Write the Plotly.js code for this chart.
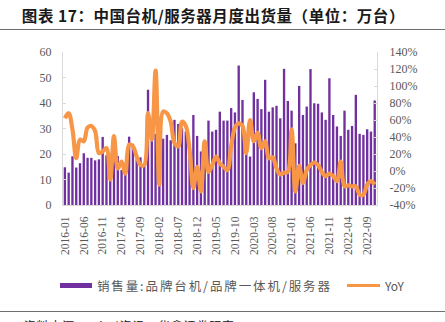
<!DOCTYPE html>
<html>
<head>
<meta charset="utf-8">
<script src="https://cdn.plot.ly/plotly-3.0.1.min.js"></script>
<style>
html,body{margin:0;padding:0;background:#fff;}
#chart{width:445px;height:322px;}
.annotation[data-index="0"] text{letter-spacing:0.55px;}
.annotation[data-index="1"] text{letter-spacing:1.9px;}
.annotation[data-index="3"] text{letter-spacing:0.8px;}
</style>
</head>
<body>
<div id="chart"></div>
<script>
// ---- data ----
var startYear = 2016, monthCount = 83;
var months = [];
for (var i = 0; i < monthCount; i++) {
  var y = startYear + Math.floor(i / 12), m = (i % 12) + 1;
  months.push(y + '-' + (m < 10 ? '0' + m : m));
}
var sales = [14.8,12.7,19.1,14.7,16.4,20.3,18.5,18.5,17.5,17.9,26.7,19.5,
             12,18,19.2,13.7,12.5,26.8,24,18,18.7,15.8,45.2,25.2,
             27.9,16,26,27.5,25.4,33.4,31.8,30.1,28.8,19,35.3,27.1,
             21,24,33.1,28.8,29.5,36.6,33.1,33.1,38,36.3,54.7,41.2,
             28,19,44.2,41.6,37.6,49.1,36.6,38.3,38.9,34,53.4,40.8,
             37,24.2,46.7,35.3,38.6,53.3,39.9,39.7,36.3,33.4,49.7,35.3,
             30.8,27.1,37,29.5,31,43.2,27.9,27.5,29.7,28.8,41];
var yoy = [62,68,49,15,37,35,51,53,47,21,23,27,
           -10,41,3,11,-3,31,29,17,7,7,68,37,
           118,-16,70,68,58,33,29,58,53,25,-20,5,
           -24,35,-1,7,17,9,5,1,29,51,56,53,
           21,60,35,45,27,35,15,16,3,-4,-2,-1,
           49,-24,6,-14,1,7,10,7,-1,-6,-3,-6,
           -12,11,-18,-17,-18,-18,-28,-28,-16,-12,-16];
var xTicks = ['2016-01','2016-06','2016-11','2017-04','2017-09','2018-02','2018-07','2018-12',
              '2019-05','2019-10','2020-03','2020-08','2021-01','2021-06','2021-11','2022-04','2022-09'];
var leftTicks = [0,10,20,30,40,50,60];
var rightTicks = [-40,-20,0,20,40,60,80,100,120,140];
var rightTickText = ['-40%','-20%','0%','20%','40%','60%','80%','100%','120%','140%'];
var salesName = '销售量:品牌台机/品牌一体机/服务器';
var yoyName = 'YoY';
var titleText = '图表 17：中国台机/服务器月度出货量（单位：万台）';
var sourceText = '资料来源：Wind资讯，华鑫证券研究';

// ---- layout helpers ----
var W = 445, H = 322, L = 63, R = 377, T = 52, B = 205;
function px(x) { return (x - L) / (R - L); }
function py(y) { return (B - y) / (B - T); }

var purple = '#7030A0', orange = '#F79646', grey = '#595959';
var serif = 'Liberation Serif, Times New Roman, serif';
var cjk = 'Noto Sans CJK SC, sans-serif';

var traces = [
  {type: 'bar', x: months, y: sales, name: salesName, marker: {color: purple}, yaxis: 'y', showlegend: false},
  {type: 'scatter', mode: 'lines', x: months, y: yoy, name: yoyName, yaxis: 'y2',
   line: {color: orange, width: 4.2, shape: 'spline', smoothing: 1}, showlegend: false}
];

var layout = {
  width: W, height: H,
  margin: {l: L, r: W - R, t: T, b: H - B},
  paper_bgcolor: '#fff', plot_bgcolor: '#fff',
  bargap: 0.38,
  showlegend: false,
  xaxis: {
    type: 'category', range: [-0.5, monthCount - 0.4],
    tickmode: 'array', tickvals: xTicks, ticktext: xTicks, tickangle: -90,
    ticks: '', showgrid: false, zeroline: false,
    showline: true, linecolor: '#d9d9d9', linewidth: 1,
    tickfont: {family: serif, size: 11.5, color: grey}, ticklabelstandoff: 6
  },
  yaxis: {
    range: [0, 60], tickmode: 'array', tickvals: leftTicks,
    showgrid: false, zeroline: false, showline: true, linecolor: '#d9d9d9', linewidth: 1,
    ticks: 'inside', ticklen: 3, tickcolor: '#d9d9d9',
    tickfont: {family: serif, size: 12, color: grey}, ticklabelstandoff: 8
  },
  yaxis2: {
    overlaying: 'y', side: 'right', range: [-40, 140],
    tickmode: 'array', tickvals: rightTicks, ticktext: rightTickText,
    showgrid: false, zeroline: false, showline: true, linecolor: '#d9d9d9', linewidth: 1,
    ticks: 'inside', ticklen: 3, tickcolor: '#d9d9d9',
    tickfont: {family: serif, size: 12, color: grey}, ticklabelstandoff: 9
  },
  shapes: [
    {type: 'line', xref: 'paper', yref: 'paper', x0: px(0), x1: px(W), y0: py(29.5), y1: py(29.5),
     line: {color: '#6e6e6e', width: 1.2}},
    {type: 'line', xref: 'paper', yref: 'paper', x0: px(0), x1: px(W), y0: py(311.5), y1: py(311.5),
     line: {color: '#6e6e6e', width: 1.2}},
    {type: 'rect', xref: 'paper', yref: 'paper', x0: px(60), x1: px(92), y0: py(288), y1: py(283),
     fillcolor: purple, line: {width: 0}},
    {type: 'line', xref: 'paper', yref: 'paper', x0: px(347), x1: px(380), y0: py(285.5), y1: py(285.5),
     line: {color: orange, width: 3}}
  ],
  annotations: [
    {xref: 'paper', yref: 'paper', x: px(27), y: py(15), xanchor: 'left', yanchor: 'middle',
     text: '<b>' + titleText + '</b>', showarrow: false,
     font: {family: cjk, size: 15.5, color: '#1a1a1a'}},
    {xref: 'paper', yref: 'paper', x: px(112), y: py(285.5), xanchor: 'left', yanchor: 'middle',
     text: salesName, showarrow: false, font: {family: cjk, size: 12.5, color: grey}},
    {xref: 'paper', yref: 'paper', x: px(382), y: py(285.5), xanchor: 'left', yanchor: 'middle',
     text: yoyName, showarrow: false, font: {family: cjk, size: 12, color: grey}},
    {xref: 'paper', yref: 'paper', x: px(29), y: py(315), xanchor: 'left', yanchor: 'top',
     text: sourceText, showarrow: false, font: {family: cjk, size: 12, color: '#1a1a1a'}}
  ]
};

Plotly.newPlot('chart', traces, layout, {displayModeBar: false, staticPlot: true});
</script>
</body>
</html>
